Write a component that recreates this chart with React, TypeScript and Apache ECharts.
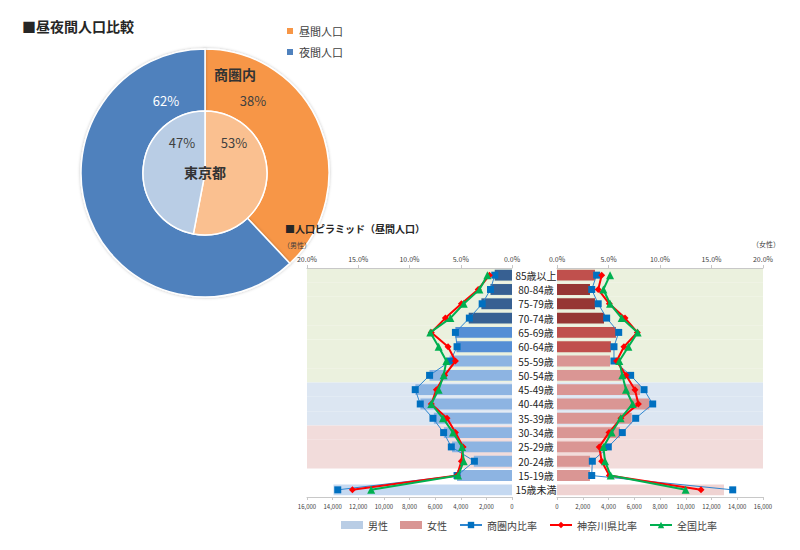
import React, { useEffect, useRef } from 'react';
import * as echarts from 'echarts';

// ---- Pie data (昼夜間人口比較) ----
const pieNames = ['昼間人口', '夜間人口'];
const shopAreaShare = [38, 62]; // 商圏内
const tokyoShare = [53, 47]; // 東京都

// ---- Pyramid data ----
const categories = ['85歳以上', '80-84歳', '75-79歳', '70-74歳', '65-69歳', '60-64歳', '55-59歳', '50-54歳', '45-49歳', '40-44歳', '35-39歳', '30-34歳', '25-29歳', '20-24歳', '15-19歳', '15歳未満'];
const maleCount = [1350, 1680, 2390, 3380, 4420, 4340, 4870, 6440, 7540, 7150, 6100, 5320, 4680, 2980, 4290, 13930];
const femaleCount = [2950, 2560, 2950, 3650, 4580, 4190, 4120, 5020, 6450, 7170, 5800, 4890, 3470, 2560, 2560, 12970];

const maleShopRatio = [1.68, 2.10, 2.91, 4.16, 5.52, 5.36, 6.01, 8.04, 9.44, 8.95, 7.71, 6.67, 5.92, 3.67, 5.36, 17.0];
const maleKanagawaRatio = [2.2, 3.3, 4.94, 6.5, 7.87, 6.24, 5.52, 6.57, 7.38, 7.87, 6.34, 5.52, 4.77, 4.94, 5.36, 15.57];
const maleNationRatio = [2.4, 3.18, 4.71, 6.01, 7.97, 7.16, 6.4, 6.67, 7.16, 7.87, 6.73, 5.75, 4.87, 4.71, 5.26, 13.74];

const femaleShopRatio = [3.85, 3.37, 4.0, 4.82, 5.99, 5.53, 5.53, 7.15, 8.45, 9.29, 7.64, 6.34, 4.98, 3.43, 3.37, 17.06];
const femaleKanagawaRatio = [4.34, 4.0, 5.08, 6.6, 7.8, 6.5, 5.79, 6.7, 7.57, 7.9, 6.21, 5.05, 4.1, 4.34, 5.08, 13.98];
const femaleNationRatio = [5.15, 4.5, 5.15, 6.28, 7.83, 6.93, 6.05, 6.34, 6.7, 7.35, 6.18, 5.31, 4.5, 4.66, 5.21, 12.49];

const pctTicks = { min: 0, max: 20, interval: 5 };
const countTicks = { min: 0, max: 16000, interval: 2000 };

// styles
const FONT = '"Noto Sans CJK JP", "Noto Sans", sans-serif';
const maleColors = ['#376092', '#376092', '#376092', '#376092', '#558ED5', '#558ED5', '#8DB4E2', '#8DB4E2', '#8DB4E2', '#8DB4E2', '#8DB4E2', '#8DB4E2', '#8DB4E2', '#8DB4E2', '#8DB4E2', '#C5D9F1'];
const femaleColors = ['#C0504D', '#963634', '#963634', '#963634', '#C0504D', '#C0504D', '#DA9694', '#DA9694', '#DA9694', '#DA9694', '#DA9694', '#DA9694', '#DA9694', '#DA9694', '#DA9694', '#EFD3D2'];
const G = '#EBF1DE', B = '#DCE6F2', P = '#F2DCDB', W = 'rgba(255,255,255,0)';
const bandColors = [G, G, G, G, G, G, G, G, B, B, B, P, P, P, W, W];

const outerLabelPos = [[253, 100], [166, 100]];
const outerLabelColor = ['#404040', '#FFFFFF'];
const innerLabelPos = [[234, 142], [182, 142]];

function pctAxis(gridIndex: number, inverse: boolean) {
  return {
    type: 'value', gridIndex, position: 'top', inverse, ...pctTicks,
    axisLine: { show: true, lineStyle: { color: '#C8C8C8' } },
    axisTick: { show: true, length: 3, lineStyle: { color: '#C8C8C8' } },
    splitLine: { show: false },
    axisLabel: { fontSize: 7, color: '#404040', margin: 6, fontFamily: FONT, formatter: (v: number) => v.toFixed(1) + '%' },
  };
}
function countAxis(gridIndex: number, inverse: boolean) {
  return {
    type: 'value', gridIndex, position: 'bottom', inverse, ...countTicks,
    axisLine: { show: true, lineStyle: { color: '#C8C8C8' } },
    axisTick: { show: true, length: 3, lineStyle: { color: '#C8C8C8' } },
    splitLine: { show: false },
    axisLabel: { fontSize: 6, color: '#404040', margin: 6, fontFamily: FONT, formatter: (v: number) => v.toLocaleString('en-US') },
  };
}
function catAxis(gridIndex: number, showLabel: boolean) {
  return {
    type: 'category', gridIndex, data: categories, inverse: true, position: 'left',
    axisLine: { show: false }, axisTick: { show: false },
    axisLabel: { show: showLabel, interval: 0, margin: 21, align: 'center', fontSize: 10, color: '#222', fontFamily: FONT },
    splitArea: { show: true, interval: 0, areaStyle: { color: bandColors } },
  };
}
function ratioLines(xAxisIndex: number, yAxisIndex: number, shop: number[], kana: number[], nation: number[]) {
  return [
    { name: '商圏内比率', type: 'line', xAxisIndex, yAxisIndex, data: shop, color: '#0070C0', symbol: 'rect', symbolSize: 7, lineStyle: { width: 1, color: '#2E86D0' }, itemStyle: { color: '#0070C0' }, z: 3 },
    { name: '神奈川県比率', type: 'line', xAxisIndex, yAxisIndex, data: kana, color: '#FF0000', symbol: 'diamond', symbolSize: 7, lineStyle: { width: 2, color: '#FF0000' }, itemStyle: { color: '#FF0000' }, z: 4 },
    { name: '全国比率', type: 'line', xAxisIndex, yAxisIndex, data: nation, color: '#00B050', symbol: 'triangle', symbolSize: 8, lineStyle: { width: 2, color: '#00B050' }, itemStyle: { color: '#00B050' }, z: 5 },
  ];
}

export default function App() {
  const ref = useRef<HTMLDivElement>(null);
  useEffect(() => {
    const chart = echarts.init(ref.current!, null, { renderer: 'svg' });
    const option: any = {
      animation: false,
      backgroundColor: '#fff',
      textStyle: { fontFamily: FONT },
      legend: [
        {
          data: pieNames.map((n) => ({ name: n, icon: 'rect' })),
          orient: 'vertical', left: 285, top: 24, padding: 0, itemWidth: 8, itemHeight: 8, itemGap: 7,
          textStyle: { fontSize: 11, color: '#404040', lineHeight: 14, fontFamily: FONT },
          selectedMode: false,
        },
        {
          data: [
            { name: '男性', icon: 'rect' },
            { name: '女性', icon: 'rect' },
            '商圏内比率', '神奈川県比率', '全国比率',
          ],
          left: 341, top: 518, padding: 0, itemWidth: 22, itemHeight: 8, itemGap: 12,
          textStyle: { fontSize: 10, color: '#404040', lineHeight: 14, fontFamily: FONT },
          selectedMode: false,
        },
      ],
      grid: [
        { left: 307, top: 268, width: 205, height: 229 },
        { left: 557, top: 268, width: 206, height: 229 },
      ],
      xAxis: [pctAxis(0, true), countAxis(0, true), pctAxis(1, false), countAxis(1, false)],
      yAxis: [catAxis(0, false), catAxis(1, true)],
      series: [
        {
          name: '昼夜間_商圏内', type: 'pie', center: [205, 173], radius: [62, 124], startAngle: 90, clockwise: true,
          silent: true,
          data: pieNames.map((n, i) => ({ name: n, value: shopAreaShare[i], label: { color: outerLabelColor[i] } })),
          color: ['#F79646', '#4F81BD'],
          itemStyle: { borderColor: '#fff', borderWidth: 1.5, shadowBlur: 3, shadowColor: 'rgba(0,0,0,0.25)' },
          label: { show: true, position: 'inside', formatter: '{c}%', fontSize: 13, fontFamily: FONT },
          labelLine: { show: false },
          labelLayout: (p: any) => ({ x: outerLabelPos[p.dataIndex][0], y: outerLabelPos[p.dataIndex][1], align: 'center', verticalAlign: 'middle' }),
          emphasis: { disabled: true },
        },
        {
          name: '昼夜間_東京都', type: 'pie', center: [205, 173], radius: [0, 62], startAngle: 90, clockwise: true,
          silent: true,
          data: pieNames.map((n, i) => ({ name: n, value: tokyoShare[i], itemStyle: { color: i === 0 ? '#FAC090' : '#B9CDE5' } })),
          itemStyle: { borderColor: '#fff', borderWidth: 1.5 },
          label: { show: true, position: 'inside', formatter: '{c}%', fontSize: 13, color: '#404040', fontFamily: FONT },
          labelLine: { show: false },
          labelLayout: (p: any) => ({ x: innerLabelPos[p.dataIndex][0], y: innerLabelPos[p.dataIndex][1], align: 'center', verticalAlign: 'middle' }),
          emphasis: { disabled: true },
        },
        {
          name: '男性', type: 'bar', xAxisIndex: 1, yAxisIndex: 0, barCategoryGap: '24%',
          itemStyle: { color: '#B9CDE5' },
          data: maleCount.map((v, i) => ({ value: v, itemStyle: { color: maleColors[i] } })),
          z: 2,
        },
        {
          name: '女性', type: 'bar', xAxisIndex: 3, yAxisIndex: 1, barCategoryGap: '24%',
          itemStyle: { color: '#D99694' },
          data: femaleCount.map((v, i) => ({ value: v, itemStyle: { color: femaleColors[i] } })),
          z: 2,
        },
        ...ratioLines(0, 0, maleShopRatio, maleKanagawaRatio, maleNationRatio),
        ...ratioLines(2, 1, femaleShopRatio, femaleKanagawaRatio, femaleNationRatio),
      ],
      graphic: [
        { type: 'text', left: 22, top: 19, z: 100, style: { text: '■昼夜間人口比較', font: `bold 14px ${FONT}`, fill: '#262626' } },
        { type: 'text', x: 235, y: 74, z: 100, style: { text: '商圏内', font: `bold 14px ${FONT}`, fill: '#333', align: 'center', verticalAlign: 'middle' } },
        { type: 'text', x: 205, y: 172, z: 100, style: { text: '東京都', font: `bold 14px ${FONT}`, fill: '#333', align: 'center', verticalAlign: 'middle' } },
        { type: 'text', x: 285, y: 228, z: 100, style: { text: '■人口ピラミッド（昼間人口）', font: `bold 10px ${FONT}`, fill: '#262626', verticalAlign: 'middle' } },
        { type: 'text', x: 297, y: 245, z: 100, style: { text: '（男性）', font: `7px ${FONT}`, fill: '#404040', align: 'center', verticalAlign: 'middle' } },
        { type: 'text', x: 766, y: 244, z: 100, style: { text: '（女性）', font: `7px ${FONT}`, fill: '#404040', align: 'center', verticalAlign: 'middle' } },
      ],
    };
    chart.setOption(option);
    return () => chart.dispose();
  }, []);
  return <div ref={ref} style={{ position: 'absolute', left: 0, top: 0, width: 800, height: 550 }} />;
}
